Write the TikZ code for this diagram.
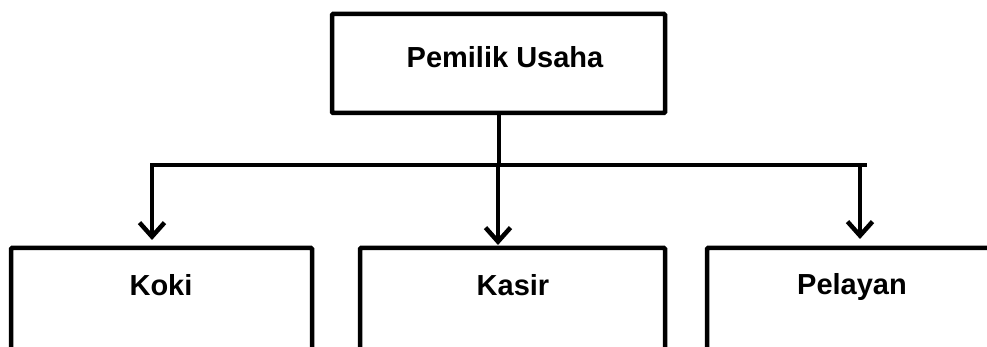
\documentclass[tikz,border=0pt]{standalone}
\usepackage{fontspec}
\setmainfont{Liberation Sans}
\usetikzlibrary{arrows.meta}
\begin{document}
\begin{tikzpicture}[x=1pt,y=-1pt,
  box/.style={draw=black, line width=4.5pt, rounded corners=1pt, inner sep=0pt},
  lbl/.style={font=\fontsize{29}{34}\selectfont\bfseries, inner sep=0pt, anchor=base},
  conn/.style={line width=4.5pt, line cap=rect},
  arr/.style={line width=4.5pt, -{Straight Barb[length=14pt,width=25pt,line width=4.5pt]}}]
\useasboundingbox (0,0) rectangle (987,347);
\clip (0,0) rectangle (987,347);
% boxes
\node[box, minimum width=333pt, minimum height=99pt] (top) at (498.5,63.5) {};
\node[lbl] (toptext) at (505,68) {Pemilik Usaha};
\node[box, minimum width=301pt, minimum height=140pt] (koki) at (161.5,318) {};
\node[lbl] (kokitext) at (161,295) {Koki};
\node[box, minimum width=305pt, minimum height=140pt] (kasir) at (512.5,318) {};
\node[lbl] (kasirtext) at (513,295) {Kasir};
\node[box, minimum width=290pt, minimum height=140pt] (pel) at (852,318) {};
\node[lbl] (peltext) at (852,294) {Pelayan};
% junctions
\coordinate (jM) at (499,165);
\coordinate (jL) at (152,165);
\coordinate (jR) at (862,165);
\coordinate (tL) at (152,240);
\coordinate (tM) at (498,245);
\coordinate (tR) at (860,239);
\draw[conn] (top.south -| jM) -- (jM);
\draw[conn] (jL) -- (865,165);
\draw[arr] (jL) -- (tL);
\draw[arr] (498,165) -- (tM);
\draw[arr] (860,165) -- (tR);
\end{tikzpicture}
\end{document}
